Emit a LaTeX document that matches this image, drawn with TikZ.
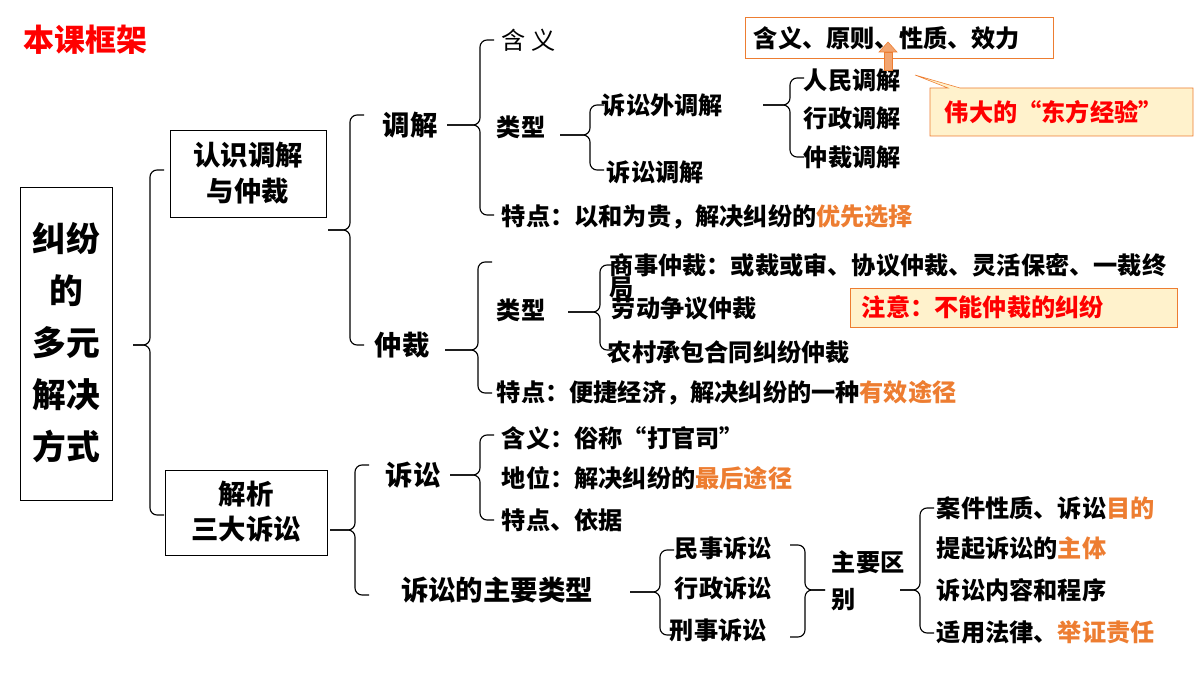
\documentclass[tikz,border=0pt]{standalone}
\usepackage{fontspec}
\setmainfont{Noto Sans CJK SC}
\usetikzlibrary{positioning}
\definecolor{hl}{RGB}{237,125,49}
\definecolor{callfill}{RGB}{255,242,204}
\newcommand\brk[5]{% tip x, tip y, spine x, top, bottom
  \draw[rounded corners=5pt] (#3+14,#4) -- (#3,#4) -- (#3,#2) -- (#1,#2);
  \draw[rounded corners=5pt] (#3+14,#5) -- (#3,#5) -- (#3,#2) -- (#1,#2);}
\begin{document}
\begin{tikzpicture}[x=0.025cm,y=-0.025cm,thick,
  txt/.style={anchor=west,inner sep=1pt,font=\fontsize{17.2}{19}\selectfont\bfseries},
  big/.style={font=\fontsize{19.5}{25}\selectfont\bfseries,inner sep=1pt},
  frame/.style={draw,thin,fill=white}]
\useasboundingbox (0,0) rectangle (1200,675);
% title and root
\node[anchor=west,text=red,font=\fontsize{22}{26}\selectfont\bfseries] (title) at (18,40) {本课框架};
\draw[frame] (20,187) rectangle (112,500);
\node[align=center,font=\fontsize{24}{37}\selectfont\bfseries] (root) at (66,343) {纠纷\\的\\多元\\解决\\方式};
\brk{133}{345}{150}{170}{515}
% first level
\draw[frame] (170,130) rectangle (326,217);
\node[big,align=center] (know) at (248,173) {认识调解\\与仲裁};
\draw[frame] (165,470) rectangle (327,555);
\node[big,align=center] (suit) at (246,512) {解析\\三大诉讼};
% mediation and arbitration
\brk{328}{230}{350}{115}{345}
\node[big] (tiao) at (410,125) {调解};
\node[big] (zhong) at (402,345) {仲裁};
\brk{447}{125}{480}{40}{215}
\node[txt,font=\fontsize{17.2}{19}\selectfont] (hanyi) at (500,40) {含 义};
\node[txt] (lx1) at (495,127) {类型};
\node[txt] (td1) at (500,217) {特点：以和为贵，解决纠纷的\textcolor{hl}{优先选择}};
\brk{560}{135}{590}{105}{170}
\node[txt] (out) at (600,105) {诉讼外调解};
\node[txt] (in) at (605,172) {诉讼调解};
\brk{763}{105}{790}{78}{157}
\node[txt] (rm) at (802,80) {人民调解};
\node[txt] (xz) at (802,118) {行政调解};
\node[txt] (zc) at (802,157) {仲裁调解};
\draw[thin,draw=hl] (745,17) rectangle (1053,58);
\node[txt] (prin) at (752,38) {含义、原则、性质、效力};
\draw[thin,draw=hl,fill=callfill] (930,88) -- (948,88) -- (915,75) -- (960,88) -- (1193,88) -- (1193,136) -- (930,136) -- cycle;
\node[txt,text=red] (east) at (943,112) {伟大的“东方经验”};
\draw[hl,fill=hl!70,thin] (884,70) rectangle (892,52);
\draw[hl,fill=hl!70,thin] (879,52) -- (888,42) -- (897,52) -- cycle;
% arbitration
\brk{445}{350}{478}{262}{393}
\node[txt] (lx2) at (495,310) {类型};
\node[txt] (td2) at (495,393) {特点：便捷经济，解决纠纷的一种\textcolor{hl}{有效途径}};
\brk{568}{312}{600}{265}{350}
\node[txt,align=left,font=\fontsize{17.2}{16}\selectfont\bfseries] (sh) at (608,276) {商事仲裁：或裁或审、协议仲裁、灵活保密、一裁终\\局};
\node[txt] (ld) at (610,308) {劳动争议仲裁};
\node[txt] (nc) at (606,352) {农村承包合同纠纷仲裁};
\draw[thin,draw=hl,fill=callfill] (850,288) rectangle (1177,327);
\node[txt,text=red] (note) at (860,307) {注意：不能仲裁的纠纷};
% litigation
\brk{330}{530}{355}{465}{595}
\node[big] (ss) at (413,475) {诉讼};
\node[big] (types) at (497,590) {诉讼的主要类型};
\brk{450}{475}{480}{435}{520}
\node[txt] (hy) at (500,438) {含义：俗称“打官司”};
\node[txt] (dw) at (500,478) {地位：解决纠纷的\textcolor{hl}{最后途径}};
\node[txt] (tdyj) at (500,520) {特点、依据};
\brk{630}{592}{660}{550}{635}
\node[txt] (ms) at (673,548) {民事诉讼};
\node[txt] (xzs) at (673,588) {行政诉讼};
\node[txt] (xs) at (668,630) {刑事诉讼};
\draw[rounded corners=5pt] (790,545) -- (805,545) -- (805,590) -- (825,590);
\draw[rounded corners=5pt] (790,637) -- (805,637) -- (805,590) -- (825,590);
\node[txt,align=left,font=\fontsize{17.2}{26}\selectfont\bfseries] (qb) at (830,581) {主要区\\别};
\brk{900}{590}{920}{508}{633}
\node[txt] (d1) at (935,508) {案件性质、诉讼\textcolor{hl}{目的}};
\node[txt] (d2) at (935,548) {提起诉讼的\textcolor{hl}{主体}};
\node[txt] (d3) at (935,590) {诉讼内容和程序};
\node[txt] (d4) at (935,632) {适用法律、\textcolor{hl}{举证责任}};
\end{tikzpicture}
\end{document}
